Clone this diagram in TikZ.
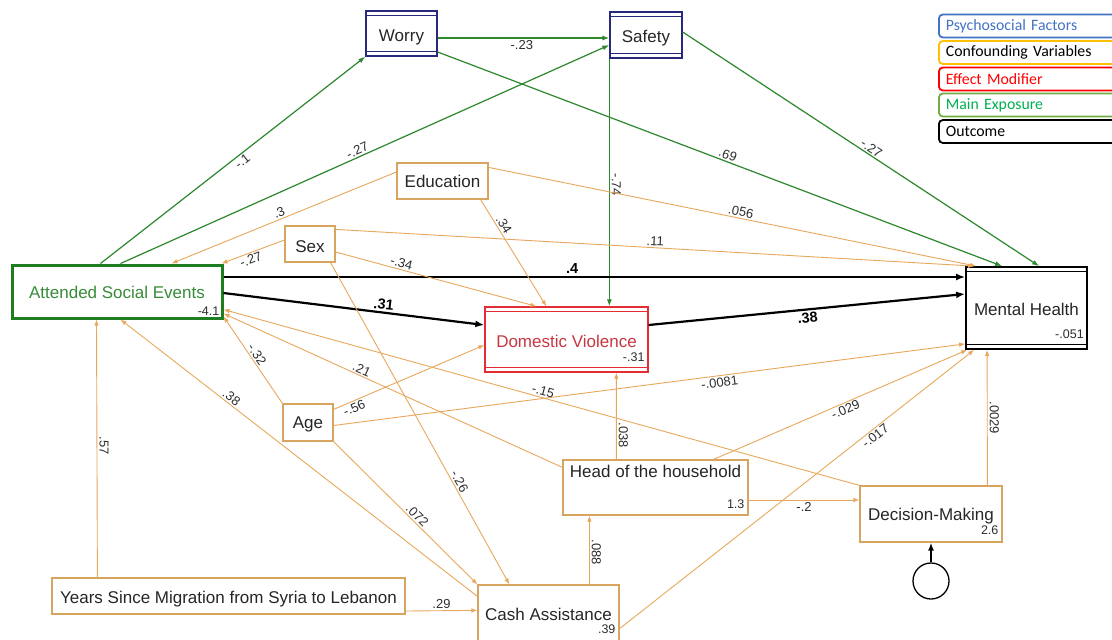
\documentclass[tikz,border=0pt]{standalone}
\usepackage{fontspec}
\setmainfont{Liberation Sans}
\newfontfamily\legfont{Carlito}
\usetikzlibrary{arrows.meta}
\definecolor{grn}{RGB}{45,135,45}
\definecolor{asegrn}{RGB}{30,125,30}
\definecolor{asetxt}{RGB}{55,140,55}
\definecolor{orgline}{RGB}{232,168,92}
\definecolor{orgbox}{RGB}{215,165,95}
\definecolor{navy}{RGB}{40,40,125}
\definecolor{dvred}{RGB}{228,45,50}
\definecolor{dvtxt}{RGB}{200,55,65}
\definecolor{labgray}{RGB}{45,45,45}
\definecolor{legblue}{RGB}{68,114,196}
\definecolor{legyel}{RGB}{255,192,0}
\definecolor{legred}{RGB}{255,0,0}
\definecolor{leggrnb}{RGB}{112,173,71}
\definecolor{leggrnt}{RGB}{0,176,80}
\begin{document}
\begin{tikzpicture}[x=1pt,y=-1pt,
  box/.style={draw=orgbox, line width=1.2pt, inner xsep=0pt, inner ysep=0pt, fill=white,
    font=\fontsize{17}{20}\selectfont, text=black!85},
  tb/.style 2 args={text height=#1, text depth=#2},
  dblbox/.style={draw=#1, line width=1.3pt, path picture={
    \draw[#1, line width=1.3pt] ([yshift=-4.5pt]path picture bounding box.north west) -- ([yshift=-4.5pt]path picture bounding box.north east);
    \draw[#1, line width=1.3pt] ([yshift=4.5pt]path picture bounding box.south west) -- ([yshift=4.5pt]path picture bounding box.south east);}},
  cornr/.style={anchor=south east, inner sep=0pt, xshift=-4pt, yshift=#1,
    font=\fontsize{12.5}{13}\selectfont, text=labgray},
  oe/.style={draw=orgline, line width=0.9pt, -{Latex[length=6pt,width=4.5pt]}},
  ge/.style={draw=grn, line width=1.2pt, -{Latex[length=7pt,width=5pt]}},
  be/.style={draw=black, line width=2.2pt, -{Latex[length=9pt,width=7pt]}},
  lbl/.style={sloped, inner sep=1.5pt, font=\fontsize{13}{13}\selectfont, text=labgray},
  blbl/.style={sloped, inner sep=2pt, font=\fontsize{14.5}{14.5}\selectfont\bfseries, text=black},
  vlbl/.style={rotate=-90, anchor=south, inner sep=2pt, font=\fontsize{13}{13}\selectfont, text=labgray},
  leg/.style={draw=#1, line width=1.8pt, rounded corners=4pt, anchor=west, minimum height=23pt,
    inner xsep=7pt, inner ysep=0pt, text width=170pt, align=left, fill=white,
    font=\legfont\fontsize{15.8}{16}\selectfont}
]
\useasboundingbox[fill=white] (0,0) rectangle (1112,640);

% nodes
\node[box, dblbox=navy, minimum width=71pt, tb={30pt}{15pt}] (worry) at (401.5,33.5) {Worry};
\node[box, dblbox=navy, minimum width=72pt, tb={30pt}{16pt}] (safety) at (646,35) {Safety};
\node[box, minimum width=91pt, tb={24pt}{12pt}] (edu) at (442.5,181) {Education};
\node[box, minimum width=50pt, tb={26pt}{10pt}] (sex) at (310,244) {Sex};
\node[box, draw=asegrn, line width=3pt, text=asetxt, minimum width=210pt, tb={33pt}{20pt},
  label={[cornr=4pt]south east:-4.1}] (ase) at (117,291.5) {Attended Social Events};
\node[box, dblbox=dvred, text=dvtxt, minimum width=163pt, tb={40pt}{25pt},
  label={[cornr=11pt]south east:-.31}] (dv) at (566.5,339.5) {Domestic Violence};
\node[box, dblbox=black, line width=1.8pt, minimum width=121pt, tb={48pt}{34pt},
  label={[cornr=11pt]south east:-.051}] (mh) at (1026.5,308) {Mental Health};
\node[box, minimum width=50pt, tb={24pt}{13pt}] (age) at (308,422.5) {Age};
\node[box, minimum width=185pt, tb={17pt}{38pt},
  label={[cornr=7pt]south east:1.3}] (head) at (655.5,487.5) {Head of the household};
\node[box, minimum width=142pt, tb={34pt}{22pt},
  label={[cornr=8pt]south east:2.6}] (dm) at (931,514) {Decision-Making};
\node[circle, draw=black, line width=1.3pt, minimum size=36pt, inner sep=0pt] (err) at (931,581) {};
\node[box, minimum width=353pt, tb={25pt}{11pt}] (years) at (228.5,596) {Years Since Migration from Syria to Lebanon};
\node[box, minimum width=141pt, tb={35pt}{21pt},
  label={[cornr=8pt]south east:.39}] (cash) at (548.5,613) {Cash Assistance};

% legend
\node[leg=legblue, text=legblue] (lg1) at (938,26) {Psychosocial Factors};
\node[leg=legyel, text=black] (lg2) at (938,52.5) {Confounding Variables};
\node[leg=legred, text=legred] (lg3) at (938,79) {Effect Modifier};
\node[leg=leggrnb, text=leggrnt] (lg4) at (938,105) {Main Exposure};
\node[leg=black, text=black] (lg5) at (938,131.5) {Outcome};

% green connectors
\draw[ge] ([xshift=90pt]ase.north west) -- node[lbl,pos=.52,below]{-.1} (worry.south west);
\draw[ge] ([xshift=110pt]ase.north west) -- node[lbl,pos=.49,above]{-.27} ([yshift=-10pt]safety.west);
\draw[ge] ([yshift=-4.5pt]worry.east) -- node[lbl,pos=.49,below]{-.23} ([yshift=-3pt]safety.west);
\draw[ge] ([yshift=-18.5pt]worry.east) -- node[lbl,pos=.51,above]{.69} ([xshift=37pt]mh.north west);
\draw[ge] ([yshift=3pt]safety.east) -- node[lbl,pos=.52,above]{-.27} ([xshift=74pt]mh.north west);
\draw[ge] (safety.south west) -- node[vlbl,pos=.51]{-.74} ([xshift=125pt]dv.north west);

% black connectors
\draw[be] ([yshift=14.5pt]ase.east) -- node[blbl,pos=.47,above]{.4} ([yshift=31pt]mh.west);
\draw[be] ([yshift=-1.5pt]ase.east) -- node[blbl,pos=.61,above]{.31} ([yshift=14.5pt]dv.west);
\draw[be] ([yshift=14.5pt]dv.east) -- node[blbl,pos=.5,below]{.38} ([yshift=14pt]mh.west);
\draw[draw=black, line width=1.5pt, -{Latex[length=8pt,width=6pt]}] (err) -- (dm);

% orange connectors
\draw[oe] ([yshift=9pt]edu.west) -- node[lbl,pos=.51,above]{.3} ([xshift=161pt]ase.north west);
\draw[oe] ([yshift=-5pt]edu.north east) -- node[lbl,pos=.515,above]{.056} ([xshift=11pt]mh.north west);
\draw[oe] ([xshift=-8pt]edu.south east) -- node[lbl,pos=.27,above]{.34} ([xshift=62pt]dv.north west);
\draw[oe] ([yshift=4pt]sex.west) -- node[lbl,pos=.57,below]{-.27} ([xshift=-2pt]ase.north east);
\draw[oe] ([yshift=-4pt]sex.north east) -- node[lbl,pos=.5,above]{.11} ([xshift=9pt]mh.north west);
\draw[oe] ([yshift=-8pt]sex.east) -- node[lbl,pos=.32,above]{-.34} ([xshift=52pt]dv.north west);
\draw[oe] ([xshift=-5pt]sex.south east) -- node[lbl,pos=.69,above]{-.26} ([xshift=32pt]cash.north west);
\draw[oe] (age.north west) -- node[lbl,pos=.52,above]{-.32} ([yshift=3pt]ase.south east);
\draw[oe] ([yshift=-8pt]head.north west) -- node[lbl,pos=.6,above]{.21} ([yshift=6pt]ase.south east);
\draw[oe] (dm.north west) -- node[lbl,pos=.5,above]{-.15} ([yshift=10pt]ase.south east);
\draw[oe] ([yshift=-6pt]age.north east) -- node[lbl,pos=.12,below]{-.56} ([yshift=-5.5pt]dv.west);
\draw[oe] ([yshift=-3pt]age.east) -- node[lbl,pos=.61,below]{-.0081} ([yshift=6pt]mh.south west);
\draw[oe] (age.south east) -- node[lbl,pos=.55,above]{.072} (cash.north west);
\draw[oe] ([yshift=-12pt]cash.north west) -- node[lbl,pos=.7,above]{.38} ([xshift=110pt]ase.south west);
\draw[oe] ([xshift=46pt]years.north west) -- node[vlbl,pos=.51]{.57} ([xshift=86pt]ase.south west);
\draw[oe] ([yshift=-15pt]years.east) -- node[lbl,pos=.5,above]{.29} ([yshift=-26pt]cash.north west);
\draw[oe] ([xshift=112pt]cash.north west) -- node[vlbl,pos=.47]{.088} ([xshift=27pt]head.south west);
\draw[oe] ([xshift=54pt]head.north west) -- node[vlbl,pos=.28]{.038} ([xshift=132pt]dv.south west);
\draw[oe] ([xshift=-35pt]head.north east) -- node[lbl,pos=.51,below]{-.029} ([xshift=2pt]mh.south west);
\draw[oe] ([yshift=-12.5pt]head.east) -- node[lbl,pos=.5,below]{-.2} ([yshift=14pt]dm.west);
\draw[oe] ([yshift=13pt]cash.south east) -- node[lbl,pos=.71,below]{-.017} ([xshift=9pt]mh.south west);
\draw[oe] ([xshift=128pt]dm.north west) -- node[vlbl,pos=.5]{.0029} ([xshift=22pt]mh.south west);
\end{tikzpicture}
\end{document}
